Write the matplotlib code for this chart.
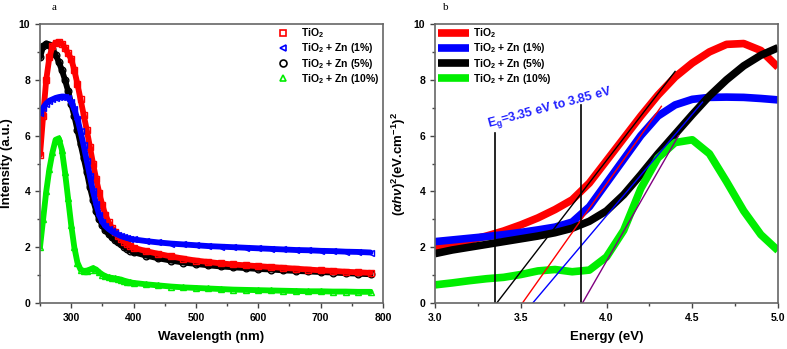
import numpy as np
import matplotlib
matplotlib.use("Agg")
import matplotlib.pyplot as plt
from matplotlib.ticker import MultipleLocator, FormatStrFormatter
from matplotlib.lines import Line2D

plt.rcParams['font.family'] = ['Liberation Sans', 'DejaVu Sans']
plt.rcParams['mathtext.fontset'] = 'custom'
plt.rcParams['mathtext.rm'] = 'Liberation Sans:bold'
plt.rcParams['mathtext.it'] = 'Liberation Sans:bold:italic'
plt.rcParams['mathtext.bf'] = 'Liberation Sans:bold'

# ---- panel a: absorbance spectra ----
wl = [250, 255, 260, 265, 270, 275, 280, 285, 290, 295, 300, 305, 310, 315, 320,
      325, 330, 335, 340, 345, 350, 355, 360, 365, 370, 375, 380, 385, 390, 395, 400,
      420, 440, 460, 480, 500, 520, 540, 560, 580, 600, 620, 640, 660, 680, 700,
      720, 740, 760, 780]

tio2 = [5.3, 6.7, 8.0, 8.8, 9.2, 9.33, 9.35, 9.3, 9.15, 8.95, 8.75, 8.35, 7.85, 7.3, 6.75,
        6.2, 5.6, 5.0, 4.45, 3.95, 3.5, 3.15, 2.9, 2.7, 2.55, 2.4, 2.3, 2.2, 2.12, 2.05, 1.98,
        1.86, 1.76, 1.67, 1.59, 1.52, 1.47, 1.42, 1.38, 1.35, 1.32, 1.29, 1.26, 1.23, 1.2, 1.17,
        1.15, 1.12, 1.1, 1.08]

zn1 = [6.8, 7.0, 7.15, 7.25, 7.3, 7.35, 7.38, 7.4, 7.4, 7.35, 7.2, 6.95, 6.6, 6.15, 5.65,
       5.1, 4.55, 4.0, 3.55, 3.15, 2.9, 2.75, 2.65, 2.57, 2.5, 2.45, 2.4, 2.36, 2.33, 2.3, 2.28,
       2.22, 2.17, 2.13, 2.1, 2.07, 2.04, 2.02, 2.0, 1.98, 1.96, 1.94, 1.92, 1.9, 1.89, 1.87,
       1.86, 1.84, 1.83, 1.81]

zn5 = [8.8, 9.2, 9.3, 9.25, 9.1, 8.9, 8.65, 8.35, 8.0, 7.6, 7.15, 6.7, 6.2, 5.7, 5.2,
       4.7, 4.15, 3.7, 3.3, 3.0, 2.8, 2.6, 2.48, 2.36, 2.26, 2.18, 2.1, 2.02, 1.95, 1.88, 1.82,
       1.7, 1.6, 1.52, 1.45, 1.4, 1.35, 1.31, 1.28, 1.25, 1.22, 1.2, 1.17, 1.15, 1.13, 1.11,
       1.09, 1.07, 1.05, 1.03]

zn10 = [2.0, 3.0, 4.0, 4.8, 5.4, 5.85, 5.9, 5.5, 4.7, 3.75, 2.8, 2.0, 1.45, 1.2, 1.15,
        1.16, 1.2, 1.25, 1.2, 1.1, 1.02, 0.96, 0.92, 0.9, 0.88, 0.86, 0.84, 0.8, 0.77, 0.74, 0.72,
        0.67, 0.63, 0.59, 0.56, 0.54, 0.52, 0.5, 0.48, 0.47, 0.46, 0.45, 0.44, 0.43, 0.42, 0.42,
        0.41, 0.41, 0.4, 0.4]

# ---- panel b: Tauc plot ----
energy = [3.0, 3.1, 3.2, 3.3, 3.4, 3.5, 3.6, 3.7, 3.8, 3.9, 4.0,
          4.1, 4.2, 4.3, 4.4, 4.5, 4.6, 4.7, 4.8, 4.9, 5.0]
tauc_tio2 = [1.95, 2.1, 2.25, 2.4, 2.58, 2.8, 3.05, 3.35, 3.7, 4.3, 5.1,
             5.9, 6.7, 7.45, 8.1, 8.6, 9.0, 9.27, 9.3, 9.05, 8.45]
tauc_zn1 = [2.2, 2.26, 2.32, 2.38, 2.45, 2.53, 2.62, 2.72, 2.9, 3.45, 4.3,
            5.15, 6.0, 6.7, 7.1, 7.3, 7.37, 7.38, 7.37, 7.33, 7.28]
tauc_zn5 = [1.77, 1.9, 2.0, 2.1, 2.2, 2.3, 2.4, 2.52, 2.68, 2.93, 3.3,
            3.88, 4.6, 5.35, 6.05, 6.75, 7.42, 8.0, 8.5, 8.88, 9.15]
tauc_zn10 = [0.65, 0.72, 0.8, 0.87, 0.92, 1.02, 1.15, 1.2, 1.12, 1.18, 1.65,
             2.6, 4.1, 5.2, 5.75, 5.85, 5.35, 4.35, 3.3, 2.45, 1.88]

# linear fits (start, end) for band gap extrapolation
fit_black = ([3.36, 4.40], [0, 8.3])
fit_red = ([3.51, 4.32], [0, 7.05])
fit_blue = ([3.57, 4.56], [0, 7.2])
fit_purple = ([3.86, 4.42], [0, 6.0])
gap_lines = [(3.35, 6.1), (3.85, 7.1)]

labels = ['TiO$_2$', 'TiO$_2$ + Zn (1%)', 'TiO$_2$ + Zn (5%)', 'TiO$_2$ + Zn (10%)']
colors = ['#ff0000', '#0000ff', '#000000', '#00ee00']

fig = plt.figure(figsize=(7.87, 3.49), dpi=100)
ax1 = fig.add_axes([40/787, 46/349, 343/787, 279/349])
ax2 = fig.add_axes([435/787, 46/349, 343/787, 279/349])

# panel a
for ys, m, i in [(zn5, 'o', 2), (tio2, 's', 0), (zn1, '<', 1), (zn10, '^', 3)]:
    ax1.plot(wl, ys, color=colors[i], lw=4.2, marker=m, ms=4.8, mfc='none',
             mew=1.0, solid_capstyle='round')
leg_h = [Line2D([], [], ls='none', marker=m, color=colors[i], mfc='none', ms=5, mew=1.2)
         for m, i in [('s', 0), ('<', 1), ('o', 2), ('^', 3)]]
ax1.legend(leg_h, labels, loc='upper right', frameon=False,
           prop={'weight': 'bold', 'size': 7.5}, handletextpad=0.7, labelspacing=0.12,
           bbox_to_anchor=(1.015, 1.025))
ax1.set_xlim(250, 800)
ax1.set_ylim(0, 10)
ax1.xaxis.set_major_locator(MultipleLocator(100))
ax1.xaxis.set_minor_locator(MultipleLocator(50))
ax1.yaxis.set_major_locator(MultipleLocator(2))
ax1.yaxis.set_minor_locator(MultipleLocator(1))
ax1.set_xlabel('Wavelength (nm)', fontsize=9.5, fontweight='bold', labelpad=6)
ax1.set_ylabel('Intensity (a.u.)', fontsize=9.5, fontweight='bold', labelpad=4)

# panel b
for ys, i in [(tauc_tio2, 0), (tauc_zn1, 1), (tauc_zn5, 2), (tauc_zn10, 3)]:
    ax2.plot(energy, ys, color=colors[i], lw=5.5, solid_capstyle='butt',
             solid_joinstyle='round', label=labels[i])
ax2.plot(*fit_black, color='black', lw=1.0)
ax2.plot(*fit_red, color='#ff0000', lw=1.0)
ax2.plot(*fit_blue, color='#0000ff', lw=1.0)
ax2.plot(*fit_purple, color='#800080', lw=1.0)
for x, top in gap_lines:
    ax2.plot([x, x], [0, top], color='black', lw=1.2)
ax2.text(3.31, 6.3, r'E$_\mathregular{g}$=3.35 eV to 3.85 eV', color='#2020ff',
         fontsize=9, fontweight='bold', rotation=15, rotation_mode='anchor')
ax2.legend(loc='upper left', frameon=False, prop={'weight': 'bold', 'size': 7.5},
           handlelength=3.0, handletextpad=0.4, labelspacing=0.12,
           bbox_to_anchor=(-0.02, 1.025))
ax2.set_xlim(3.0, 5.0)
ax2.set_ylim(0, 10)
ax2.xaxis.set_major_locator(MultipleLocator(0.5))
ax2.xaxis.set_minor_locator(MultipleLocator(0.25))
ax2.yaxis.set_major_locator(MultipleLocator(2))
ax2.yaxis.set_minor_locator(MultipleLocator(1))
ax2.xaxis.set_major_formatter(FormatStrFormatter('%.1f'))
ax2.set_xlabel('Energy (eV)', fontsize=9.5, fontweight='bold', labelpad=6)
ax2.set_ylabel(r'$(\alpha h\nu)^2$(eV.cm$^{-1}$)$^2$', fontsize=9.5,
               fontweight='bold', labelpad=4)

for ax in (ax1, ax2):
    for s in ax.spines.values():
        s.set_color('#666666')
        s.set_linewidth(1.2)
    ax.tick_params(which='both', direction='out', colors='#444444', labelcolor='black',
                   labelsize=7.5)
    ax.tick_params(which='major', length=3.5, width=1)
    ax.tick_params(which='minor', length=2.5, width=1)
    for lab in ax.get_xticklabels() + ax.get_yticklabels():
        lab.set_fontweight('bold')

fig.text(52/787, 1 - 10/349, 'a', family='Liberation Serif', fontsize=8)
fig.text(443/787, 1 - 10/349, 'b', family='Liberation Serif', fontsize=8)

fig.savefig('out.png', dpi=100)
